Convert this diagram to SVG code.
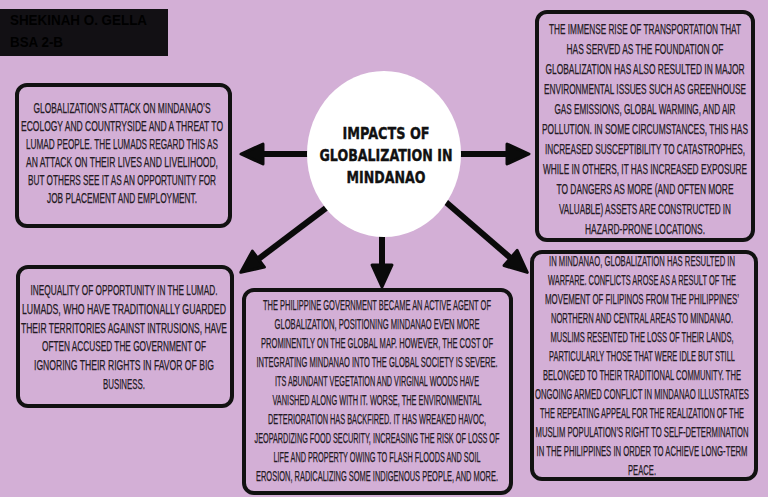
<svg xmlns="http://www.w3.org/2000/svg" width="768" height="497" viewBox="0 0 768 497">
<style>
.box{fill:#d3afd6;stroke:#111;stroke-width:4}
.t{font-family:"Liberation Sans Narrow","Liberation Sans",sans-serif;font-size:14px;fill:#231a23;stroke:#231a23;stroke-width:0.25;text-anchor:middle}
.h{font-family:"DejaVu Sans",sans-serif;font-weight:bold;font-size:16px;fill:#111;stroke:#111;stroke-width:0.4;text-anchor:middle}
.n{font-family:"Liberation Sans",sans-serif;font-weight:bold;font-size:15px;fill:#000}
.c{stroke:#0a0a0a;stroke-width:6;fill:none;marker-end:url(#ah)}
</style>
<defs>
<marker id="ah" markerUnits="userSpaceOnUse" markerWidth="26" markerHeight="26" viewBox="0 0 26 26" refX="11" refY="13" orient="auto">
<path d="M2,3 L24,13 L2,23 z" fill="#0a0a0a" stroke="#0a0a0a" stroke-width="3" stroke-linejoin="round"/>
</marker>
</defs>
<rect width="768" height="497" fill="#d3afd6"/>
<g id="author">
<rect x="0" y="9" width="168" height="47" fill="#121014"/>
<text class="n" x="10" y="25" textLength="137" lengthAdjust="spacingAndGlyphs">SHEKINAH O. GELLA</text>
<text class="n" x="10" y="47" textLength="53" lengthAdjust="spacingAndGlyphs">BSA 2-B</text>
</g>
<g id="connectors">
<line class="c" x1="330" y1="154" x2="254" y2="154"/>
<line class="c" x1="440" y1="154" x2="516" y2="154"/>
<line class="c" x1="382" y1="220" x2="382" y2="274"/>
<line class="c" x1="330" y1="205" x2="251.2" y2="264.5"/>
<line class="c" x1="440" y1="197" x2="517.4" y2="263.9"/>
</g>
<g id="center">
<ellipse cx="384" cy="154" rx="77" ry="83" fill="#fff"/>
<text class="h" x="386" y="139" textLength="87" lengthAdjust="spacingAndGlyphs">IMPACTS OF</text>
<text class="h" x="386" y="161" textLength="133" lengthAdjust="spacingAndGlyphs">GLOBALIZATION IN</text>
<text class="h" x="386" y="183" textLength="79" lengthAdjust="spacingAndGlyphs">MINDANAO</text>
</g>
<g id="box-ecology">
<rect class="box" x="17" y="85" width="213" height="141" rx="10"/>
<text class="t" x="122" y="112.5" textLength="177" lengthAdjust="spacingAndGlyphs">GLOBALIZATION’S ATTACK ON MINDANAO’S</text>
<text class="t" x="122" y="130.5" textLength="202" lengthAdjust="spacingAndGlyphs">ECOLOGY AND COUNTRYSIDE AND A THREAT TO</text>
<text class="t" x="122" y="148.5" textLength="192" lengthAdjust="spacingAndGlyphs">LUMAD PEOPLE. THE LUMADS REGARD THIS AS</text>
<text class="t" x="122" y="166.5" textLength="192" lengthAdjust="spacingAndGlyphs">AN ATTACK ON THEIR LIVES AND LIVELIHOOD,</text>
<text class="t" x="122" y="184.5" textLength="188" lengthAdjust="spacingAndGlyphs">BUT OTHERS SEE IT AS AN OPPORTUNITY FOR</text>
<text class="t" x="122" y="202.5" textLength="150" lengthAdjust="spacingAndGlyphs">JOB PLACEMENT AND EMPLOYMENT.</text>
</g>
<g id="box-transport">
<rect class="box" x="537" y="12" width="216" height="228" rx="10"/>
<text class="t" x="645" y="33.5" textLength="192" lengthAdjust="spacingAndGlyphs">THE IMMENSE RISE OF TRANSPORTATION THAT</text>
<text class="t" x="645" y="53.5" textLength="157" lengthAdjust="spacingAndGlyphs">HAS SERVED AS THE FOUNDATION OF</text>
<text class="t" x="645" y="73.5" textLength="199" lengthAdjust="spacingAndGlyphs">GLOBALIZATION HAS ALSO RESULTED IN MAJOR</text>
<text class="t" x="645" y="93.5" textLength="202" lengthAdjust="spacingAndGlyphs">ENVIRONMENTAL ISSUES SUCH AS GREENHOUSE</text>
<text class="t" x="645" y="113.5" textLength="181" lengthAdjust="spacingAndGlyphs">GAS EMISSIONS, GLOBAL WARMING, AND AIR</text>
<text class="t" x="645" y="133.5" textLength="206" lengthAdjust="spacingAndGlyphs">POLLUTION. IN SOME CIRCUMSTANCES, THIS HAS</text>
<text class="t" x="645" y="153.5" textLength="200" lengthAdjust="spacingAndGlyphs">INCREASED SUSCEPTIBILITY TO CATASTROPHES,</text>
<text class="t" x="645" y="173.5" textLength="204" lengthAdjust="spacingAndGlyphs">WHILE IN OTHERS, IT HAS INCREASED EXPOSURE</text>
<text class="t" x="645" y="193.5" textLength="177" lengthAdjust="spacingAndGlyphs">TO DANGERS AS MORE (AND OFTEN MORE</text>
<text class="t" x="645" y="213.5" textLength="172" lengthAdjust="spacingAndGlyphs">VALUABLE) ASSETS ARE CONSTRUCTED IN</text>
<text class="t" x="645" y="233.5" textLength="120" lengthAdjust="spacingAndGlyphs">HAZARD-PRONE LOCATIONS.</text>
</g>
<g id="box-inequality">
<rect class="box" x="18" y="267" width="214" height="139" rx="10"/>
<text class="t" x="124" y="294.5" textLength="187" lengthAdjust="spacingAndGlyphs">INEQUALITY OF OPPORTUNITY IN THE LUMAD.</text>
<text class="t" x="124" y="313.5" textLength="204" lengthAdjust="spacingAndGlyphs">LUMADS, WHO HAVE TRADITIONALLY GUARDED</text>
<text class="t" x="124" y="332.5" textLength="206" lengthAdjust="spacingAndGlyphs">THEIR TERRITORIES AGAINST INTRUSIONS, HAVE</text>
<text class="t" x="124" y="350.5" textLength="164" lengthAdjust="spacingAndGlyphs">OFTEN ACCUSED THE GOVERNMENT OF</text>
<text class="t" x="124" y="369.5" textLength="180" lengthAdjust="spacingAndGlyphs">IGNORING THEIR RIGHTS IN FAVOR OF BIG</text>
<text class="t" x="124" y="388.5" textLength="42" lengthAdjust="spacingAndGlyphs">BUSINESS.</text>
</g>
<g id="box-government">
<rect class="box" x="244" y="290" width="267" height="203" rx="10"/>
<text class="t" x="377" y="309.5" textLength="228" lengthAdjust="spacingAndGlyphs">THE PHILIPPINE GOVERNMENT BECAME AN ACTIVE AGENT OF</text>
<text class="t" x="377" y="328.5" textLength="205" lengthAdjust="spacingAndGlyphs">GLOBALIZATION, POSITIONING MINDANAO EVEN MORE</text>
<text class="t" x="377" y="347.5" textLength="232" lengthAdjust="spacingAndGlyphs">PROMINENTLY ON THE GLOBAL MAP. HOWEVER, THE COST OF</text>
<text class="t" x="377" y="366.5" textLength="241" lengthAdjust="spacingAndGlyphs">INTEGRATING MINDANAO INTO THE GLOBAL SOCIETY IS SEVERE.</text>
<text class="t" x="377" y="385.5" textLength="204" lengthAdjust="spacingAndGlyphs">ITS ABUNDANT VEGETATION AND VIRGINAL WOODS HAVE</text>
<text class="t" x="377" y="404.5" textLength="209" lengthAdjust="spacingAndGlyphs">VANISHED ALONG WITH IT. WORSE, THE ENVIRONMENTAL</text>
<text class="t" x="377" y="423.5" textLength="218" lengthAdjust="spacingAndGlyphs">DETERIORATION HAS BACKFIRED. IT HAS WREAKED HAVOC,</text>
<text class="t" x="377" y="442.5" textLength="245" lengthAdjust="spacingAndGlyphs">JEOPARDIZING FOOD SECURITY, INCREASING THE RISK OF LOSS OF</text>
<text class="t" x="377" y="461.5" textLength="207" lengthAdjust="spacingAndGlyphs">LIFE AND PROPERTY OWING TO FLASH FLOODS AND SOIL</text>
<text class="t" x="377" y="480.5" textLength="242" lengthAdjust="spacingAndGlyphs">EROSION, RADICALIZING SOME INDIGENOUS PEOPLE, AND MORE.</text>
</g>
<g id="box-warfare">
<rect class="box" x="532" y="252" width="224" height="227" rx="10"/>
<text class="t" x="642" y="265.5" textLength="186" lengthAdjust="spacingAndGlyphs">IN MINDANAO, GLOBALIZATION HAS RESULTED IN</text>
<text class="t" x="642" y="284.5" textLength="188" lengthAdjust="spacingAndGlyphs">WARFARE. CONFLICTS AROSE AS A RESULT OF THE</text>
<text class="t" x="642" y="303.5" textLength="194" lengthAdjust="spacingAndGlyphs">MOVEMENT OF FILIPINOS FROM THE PHILIPPINES’</text>
<text class="t" x="642" y="322.5" textLength="182" lengthAdjust="spacingAndGlyphs">NORTHERN AND CENTRAL AREAS TO MINDANAO.</text>
<text class="t" x="642" y="341.5" textLength="183" lengthAdjust="spacingAndGlyphs">MUSLIMS RESENTED THE LOSS OF THEIR LANDS,</text>
<text class="t" x="642" y="360.5" textLength="186" lengthAdjust="spacingAndGlyphs">PARTICULARLY THOSE THAT WERE IDLE BUT STILL</text>
<text class="t" x="642" y="379.5" textLength="198" lengthAdjust="spacingAndGlyphs">BELONGED TO THEIR TRADITIONAL COMMUNITY. THE</text>
<text class="t" x="642" y="398.5" textLength="214" lengthAdjust="spacingAndGlyphs">ONGOING ARMED CONFLICT IN MINDANAO ILLUSTRATES</text>
<text class="t" x="642" y="417.5" textLength="204" lengthAdjust="spacingAndGlyphs">THE REPEATING APPEAL FOR THE REALIZATION OF THE</text>
<text class="t" x="642" y="436.5" textLength="213" lengthAdjust="spacingAndGlyphs">MUSLIM POPULATION’S RIGHT TO SELF-DETERMINATION</text>
<text class="t" x="642" y="455.5" textLength="211" lengthAdjust="spacingAndGlyphs">IN THE PHILIPPINES IN ORDER TO ACHIEVE LONG-TERM</text>
<text class="t" x="642" y="474.5" textLength="28" lengthAdjust="spacingAndGlyphs">PEACE.</text>
</g>
</svg>
